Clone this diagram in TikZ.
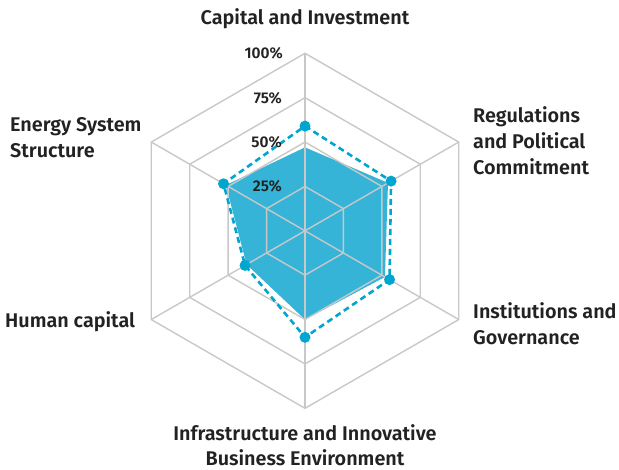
\documentclass[tikz,border=0pt]{standalone}
\usepackage{fontspec}
\setmainfont{Fira Sans SemiBold}
\usetikzlibrary{calc}
\definecolor{gridgray}{HTML}{C8C8C8}
\definecolor{areablue}{HTML}{36B4D8}
\definecolor{lineblue}{HTML}{00A6D0}
\definecolor{textdark}{HTML}{222222}
\tikzset{
  gridline/.style={draw=gridgray, line width=1.4pt},
  axislabel/.style={text=textdark, inner sep=0pt, font=\fontsize{19.8}{26}\selectfont},
  pctlabel/.style={text=textdark, inner sep=0pt, anchor=east, font=\fontsize{15.5}{16}\selectfont},
  dashline/.style={draw=lineblue, line width=2.6pt, dash pattern=on 6pt off 4pt},
  marker/.style={circle, fill=lineblue, inner sep=0pt, minimum size=11pt},
}
\begin{document}
\begin{tikzpicture}[x=1pt, y=-1pt]
\useasboundingbox (0,0) rectangle (619,469);
\def\R{177.5}
\coordinate (c) at (305,230.8);
% axis directions: 1 top, 2 upper right, 3 lower right, 4 bottom, 5 lower left, 6 upper left
\foreach \i/\a in {1/90, 2/30, 3/-30, 4/-90, 5/-150, 6/150} {
  \foreach \k/\v in {a/0.25, b/0.5, c/0.75, d/1} {
    \coordinate (g\k\i) at ({305+\R*\v*cos(\a)}, {230.8-\R*\v*sin(\a)});
  }
}
% filled area values
\foreach \i/\a/\v in {1/90/0.47, 2/30/0.54, 3/-30/0.52, 4/-90/0.50, 5/-150/0.38, 6/150/0.515} {
  \coordinate (f\i) at ({305+\R*\v*cos(\a)}, {230.8-\R*\v*sin(\a)});
}
% dashed series values
\foreach \i/\a/\v in {1/90/0.59, 2/30/0.56, 3/-30/0.55, 4/-90/0.60, 5/-150/0.39, 6/150/0.53} {
  \coordinate (d\i) at ({305+\R*\v*cos(\a)}, {230.8-\R*\v*sin(\a)});
}
\fill[areablue] (f1) -- (f2) -- (f3) -- (f4) -- (f5) -- (f6) -- cycle;
% grid
\foreach \k in {a,b,c,d} {
  \draw[gridline] (g\k1) -- (g\k2) -- (g\k3) -- (g\k4) -- (g\k5) -- (g\k6) -- cycle;
}
\foreach \i in {1,...,6} { \draw[gridline] (c) -- (gd\i); }
% dashed series
\draw[dashline] (d1) -- (d2) -- (d3) -- (d4) -- (d5) -- (d6) -- cycle;
\foreach \i in {1,...,6} { \node[marker] (m\i) at (d\i) {}; }
% percent labels
\node[pctlabel] (p100) at (283,53.5) {100\%};
\node[pctlabel] (p75) at (282,97.8) {75\%};
\node[pctlabel] (p50) at (282,142.2) {50\%};
\node[pctlabel] (p25) at (282,186.6) {25\%};
% axis labels
\node[axislabel, anchor=base] (l1) at (305,24.5) {Capital and Investment};
\node[axislabel, anchor=north west, align=left] (l2) at (473,106) {Regulations\\and Political\\Commitment};
\node[axislabel, anchor=north west, align=left] (l3) at (473,302) {Institutions and\\Governance};
\node[axislabel, anchor=north, align=center, font=\fontsize{19.8}{25}\selectfont] (l4) at (305,424) {Infrastructure and Innovative\\Business Environment};
\node[axislabel, anchor=base west] (l5) at (5,327) {Human capital};
\node[axislabel, anchor=north west, align=left] (l6) at (10,117) {Energy System\\Structure};
\end{tikzpicture}
\end{document}
